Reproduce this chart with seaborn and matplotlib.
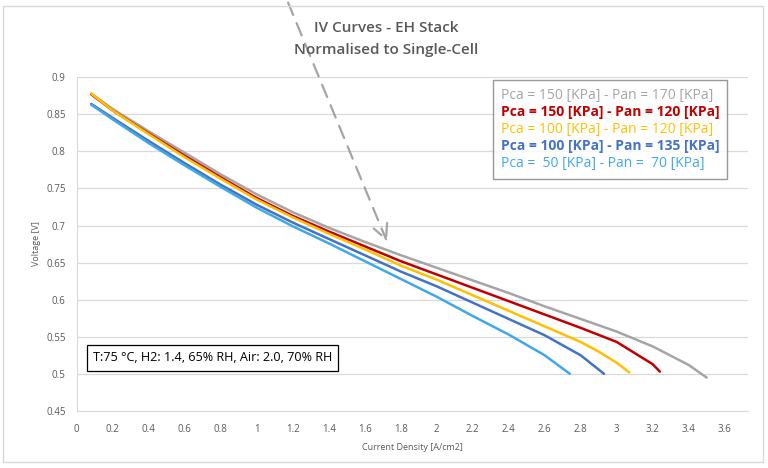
import matplotlib
matplotlib.use('Agg')
import matplotlib.pyplot as plt
from matplotlib.patches import Rectangle
import seaborn as sns
import pandas as pd

# IV curve data
labels = [
    'Pca = 150 [KPa] - Pan = 170 [KPa]',
    'Pca = 150 [KPa] - Pan = 120 [KPa]',
    'Pca = 100 [KPa] - Pan = 120 [KPa]',
    'Pca = 100 [KPa] - Pan = 135 [KPa]',
    'Pca =  50 [KPa] - Pan =  70 [KPa]',
]
colors = ['#A5A5A5', '#C00000', '#FFC000', '#4472C4', '#3FA9E8']

x_150_170 = [0.08, 0.2, 0.4, 0.6, 0.8, 1.0, 1.2, 1.4, 1.6, 1.8, 2.0, 2.2, 2.4, 2.6, 2.8, 3.0, 3.2, 3.4, 3.5]
v_150_170 = [0.878, 0.857, 0.827, 0.798, 0.769, 0.742, 0.718, 0.697, 0.678, 0.660, 0.643, 0.626, 0.609, 0.591, 0.574, 0.557, 0.537, 0.512, 0.495]

x_150_120 = [0.08, 0.2, 0.4, 0.6, 0.8, 1.0, 1.2, 1.4, 1.6, 1.8, 2.0, 2.2, 2.4, 2.6, 2.8, 3.0, 3.2, 3.24]
v_150_120 = [0.877, 0.855, 0.824, 0.794, 0.765, 0.737, 0.713, 0.692, 0.672, 0.652, 0.634, 0.616, 0.598, 0.580, 0.562, 0.543, 0.513, 0.503]

x_100_120 = [0.08, 0.2, 0.4, 0.6, 0.8, 1.0, 1.2, 1.4, 1.6, 1.8, 2.0, 2.2, 2.4, 2.6, 2.8, 2.9, 3.0, 3.07]
v_100_120 = [0.878, 0.855, 0.823, 0.792, 0.763, 0.735, 0.711, 0.689, 0.668, 0.646, 0.627, 0.606, 0.585, 0.564, 0.543, 0.530, 0.515, 0.502]

x_100_135 = [0.08, 0.2, 0.4, 0.6, 0.8, 1.0, 1.2, 1.4, 1.6, 1.8, 2.0, 2.2, 2.4, 2.6, 2.8, 2.93]
v_100_135 = [0.864, 0.845, 0.814, 0.784, 0.755, 0.728, 0.704, 0.682, 0.660, 0.638, 0.618, 0.596, 0.574, 0.552, 0.525, 0.500]

x_50_70 = [0.08, 0.2, 0.4, 0.6, 0.8, 1.0, 1.2, 1.4, 1.6, 1.8, 2.0, 2.2, 2.4, 2.6, 2.74]
v_50_70 = [0.863, 0.843, 0.811, 0.781, 0.752, 0.724, 0.699, 0.676, 0.652, 0.628, 0.604, 0.578, 0.553, 0.525, 0.500]

series_x = [x_150_170, x_150_120, x_100_120, x_100_135, x_50_70]
series_v = [v_150_170, v_150_120, v_100_120, v_100_135, v_50_70]

frames = []
for lab, xs, vs in zip(labels, series_x, series_v):
    frames.append(pd.DataFrame({'Current Density': xs, 'Voltage': vs, 'Condition': lab}))
df = pd.concat(frames, ignore_index=True)

sns.set_style('white')
plt.rcParams['font.family'] = ['Open Sans', 'DejaVu Sans']

fig = plt.figure(figsize=(7.68, 4.68), dpi=100)
ax = fig.add_axes([0.100, 0.122, 0.874, 0.713])

sns.lineplot(data=df, x='Current Density', y='Voltage', hue='Condition',
             hue_order=labels, palette=colors, sort=False, estimator=None,
             linewidth=1.8, ax=ax)

ax.set_xlim(0, 3.73)
ax.set_ylim(0.45, 0.9)
ax.set_xticks([i * 0.2 for i in range(19)])
ax.set_xticklabels(['0', '0.2', '0.4', '0.6', '0.8', '1', '1.2', '1.4', '1.6', '1.8',
                    '2', '2.2', '2.4', '2.6', '2.8', '3', '3.2', '3.4', '3.6'])
ax.set_yticks([0.45 + 0.05 * i for i in range(10)])
ax.set_yticklabels(['0.45', '0.5', '0.55', '0.6', '0.65', '0.7', '0.75', '0.8', '0.85', '0.9'])
ax.tick_params(axis='both', labelsize=7, colors='#595959', length=0, pad=8)
ax.tick_params(axis='x', length=3, color='#D9D9D9', direction='inout')
ax.grid(axis='y', color='#D9D9D9', linewidth=0.9)
ax.set_axisbelow(True)
for s in ['top', 'right']:
    ax.spines[s].set_visible(False)
for s in ['left', 'bottom']:
    ax.spines[s].set_color('#D9D9D9')
ax.set_xlabel('Current Density [A/cm2]', fontsize=6.5, color='#595959', labelpad=6)
ax.set_ylabel('Voltage [V]', fontsize=6.5, color='#595959', labelpad=4)

handles, _ = ax.get_legend_handles_labels()
leg = ax.legend(handles, labels, loc='upper right', bbox_to_anchor=(0.969, 0.991),
                borderaxespad=0, handlelength=0, handletextpad=0, fontsize=10,
                labelcolor='linecolor', frameon=True, fancybox=False,
                edgecolor='#7F7F7F', borderpad=0.55, labelspacing=0.18)
leg.get_frame().set_linewidth(1.0)
for h in leg.legend_handles:
    h.set_visible(False)
for i, t in enumerate(leg.get_texts()):
    if i in (1, 3):
        t.set_fontweight('bold')

ax.text(0.024, 0.159, 'T:75 \u00b0C, H2: 1.4, 65% RH, Air: 2.0, 70% RH', transform=ax.transAxes,
        fontsize=9.1, color='black', va='center', ha='left',
        bbox=dict(boxstyle='square,pad=0.5', facecolor='white', edgecolor='black', linewidth=0.9))

fig.text(0.503, 0.94, 'IV Curves - EH Stack', ha='center', va='center',
         fontsize=11, color='#595959', fontweight='semibold')
fig.text(0.503, 0.893, 'Normalised to Single-Cell', ha='center', va='center',
         fontsize=11, color='#595959', fontweight='semibold')

# outer chart border
fig.patches.append(Rectangle((0.004, 0.012), 0.99, 0.975, transform=fig.transFigure,
                             fill=False, edgecolor='#D9D9D9', linewidth=1.0))

# dashed pointer arrow
ax.annotate('', xy=(388 / 768, 1 - 244 / 468), xycoords='figure fraction',
            xytext=(287 / 768, 1.0), textcoords='figure fraction',
            arrowprops=dict(arrowstyle='->', color='#A5A5A5', linestyle=(0, (6, 4)),
                            linewidth=1.6, mutation_scale=26),
            annotation_clip=False)

fig.savefig('out.png', dpi=100)
